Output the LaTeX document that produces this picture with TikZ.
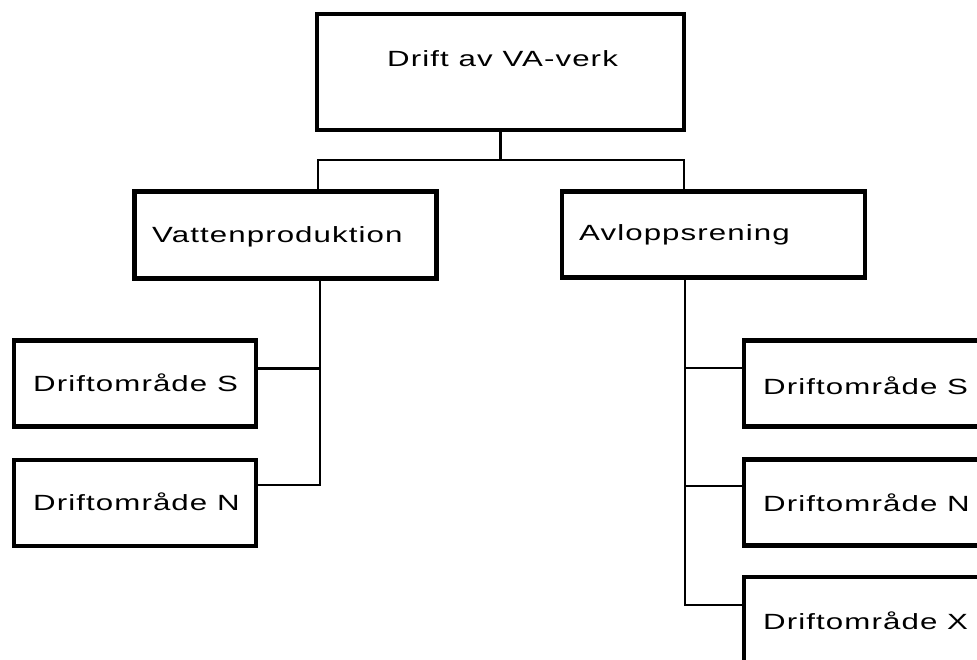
\documentclass[tikz,border=0pt]{standalone}
\usepackage{fontspec}
\newfontfamily\chartfont[FakeStretch=1.42,LetterSpace=5]{Liberation Sans}
\begin{document}
\begin{tikzpicture}[x=1pt,y=-1pt,
  orgbox/.style={draw=black, line width=4.5pt, fill=white, rectangle,
    inner sep=0pt, minimum width=#1},
  orgbox/.default=242pt,
  label/.style={anchor=base west, inner sep=0pt,
    font=\chartfont\fontsize{22}{26}\selectfont},
  link/.style={draw=black, line width=2.8pt}]
\useasboundingbox (0,0) rectangle (977,660);
\clip (0,0) rectangle (977,660);

% spine coordinates
\coordinate (jl) at (318,160);
\coordinate (jr) at (684,160);
\coordinate (lspine) at (320,0);
\coordinate (rspine) at (685,0);

% boxes
\node[orgbox=367pt, minimum height=116pt] (top) at (500.5,72) {};
\node[orgbox=302pt, minimum height=87pt] (vatten) at (285.7,234.8) {};
\node[orgbox=303pt, minimum height=86pt] (avlopp) at (713.4,234.4) {};
\node[orgbox, minimum height=86pt] (ls) at (135,383.3) {};
\node[orgbox, minimum height=86pt] (ln) at (135,503) {};
\node[orgbox, minimum height=86pt] (rs) at (865,383.5) {};
\node[orgbox, minimum height=86pt] (rn) at (865,502.5) {};
\node[orgbox, minimum height=86pt] (rx) at (865,620) {};

% connectors
\draw[link] (top.south) -- (top.south |- jl);
\draw[link] (jl |- vatten.north) -- (jl) -- (jr) -- (jr |- avlopp.north);
\draw[link] (vatten.south -| lspine) -- ([yshift=18pt]ln.east -| lspine) -- ([yshift=18pt]ln.east);
\draw[link] ([yshift=15pt]ls.east -| lspine) -- ([yshift=15pt]ls.east);
\draw[link] (avlopp.south -| rspine) -- ([yshift=15pt]rx.west -| rspine) -- ([yshift=15pt]rx.west);
\draw[link] ([yshift=15.5pt]rs.west -| rspine) -- ([yshift=15.5pt]rs.west);
\draw[link] ([yshift=16.5pt]rn.west -| rspine) -- ([yshift=16.5pt]rn.west);

% texts
\node[label] (ttop) at (387,67) {Drift av VA-verk};
\node[label] (tvatten) at (152,243) {Vattenproduktion};
\node[label] (tavlopp) at (579,241) {Avloppsrening};
\node[label] (tls) at (33,391.5) {Driftområde S};
\node[label] (tln) at (33,510) {Driftområde N};
\node[label] (trs) at (763,394) {Driftområde S};
\node[label] (trn) at (763,511) {Driftområde N};
\node[label] (trx) at (763,629) {Driftområde X};
\end{tikzpicture}
\end{document}
